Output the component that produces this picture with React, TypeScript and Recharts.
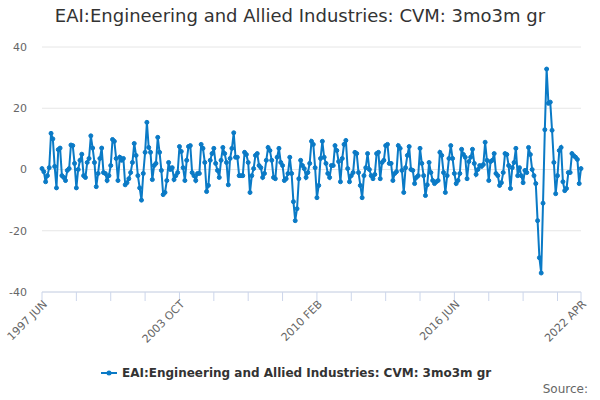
import React from 'react';
import { LineChart, Line, XAxis, YAxis, CartesianGrid } from 'recharts';

// EAI 3mo3m growth, monthly from 1997 JUN
const growth1997 = [
  0.3, -0.7, -4, -2, 0.6, 11.8, 10, 1, -6, 6.5, 7, -2, -2.6, -3.6, -0.3, 0.3, 8, 7.8, 2, -6, 0, 3, 5,
  -2, -2.6, 2.3, 3.6, 11, 7, 2.3, -5.6, -1.3, 3.6, 7, -1, -1.3, -3.6, -2, 1.3, 9.8, 9.2, 3.6, -3.6, 4, 3, 3.6, -5, -4.3, -3, -1, 2.3, 8.5,
  4.6, -2, -6, -10, -1.3, 5.6, 15.4, 7.2, 5.6, -3.3, 1.3, 2, 10.5, 5.6, -0.3, -8.2, -7.5, -3.6, 2.3, 0, 0.6, -3.3, -2, -1,
];
const growth2003 = [
  7.5, 5.9, 0.6, -3.6,
  3, 7.5, 7.8, -1, -2, -3.6, -1.3, -1.3, 8.2, 6.9, 2.3, -7.2, -5.2, 3, 5.2, 6.9, 2, -0.3, -2.6, 3, 7.2, 5.2, 2.3, -5, 3.6, 6.9, 12,
  4, 4, -2, -2, -2, 5.6, 4.9, 2.3, -7.5, -2, 0.3, 4.6, 5.2, 1.3, 0.6, -2.6, -1.3, 3, 7.2, 6.2, 3, -2.6, -3, 4, 6.9, 2.3, 1.3, -3.6, -3,
  -1.3, 4, -1.3, -10.5, -16.7, -12.8, -3, 3, 1.3, 0.3, -2.6, -1, 2, 9.2, 8.2, 0.6,
];
const growth2010 = [
  -9.2, -5.2, 3.6, 9.2, 4, 2, -1.3, -2.6, 1.3, 1.3, 7.8, 6.2,
  2.6, -4, 3.6, 8.2, 9.5, 0.3, -4, -2, -1, 5.6, 5.2, -1, -5.2, -9.2, -2, 0.6, 5.2, 0, -2, -3, -1.6, 5.2, 5.6, -3, 2.3, 3, 7.8,
  8.2, 2, 2, -3.6, -1.3, -0.7, 7.8, 6.9, -0.3, -7.5, 0.6, 4.6, 7.5, 0, -0.3, -4.6, -2.6, -2, 6.9, 2, -2, -8.5, -5, 2.3, -1, -3.6, -4.6,
];
const growth2016 = [
  -4, -3.6, 5.6, 4.6, -1, -7.5, -2, 3.6, 7.8, 3.6, -1.3, -4.6, -3.6, -1.3, 6.6, 4.9, 4, -3, 2.6, 4, 6.6, 2, -1.6, 0, 1.3, 1, 1.6, 8.9,
  3, -3.6, 2.6, 3, 5.2, -1.3, -2, -5.2, -4.3, -1, 5.2, 4.9, 1.3, -6.2, 0.6, 2.3, 6.9, -2, 0.6, -2, -4.3, -0.3, -1, 7.2, 4.9, 0, -2, -4.6,
  -16.7, -28.8, -33.8, -11, 13, 32.8, 21.6, 22, 12.8, 2.3, -7.9, -2, 6.2, 7.2, -4, -6.9, -6.2, -1, -1, 5.2, 4.5, 4, 3.3, -4.6, 0.3,
];

const values = [...growth1997, ...growth2003, ...growth2010, ...growth2016];

const monthNames = ['JAN', 'FEB', 'MAR', 'APR', 'MAY', 'JUN', 'JUL', 'AUG', 'SEP', 'OCT', 'NOV', 'DEC'];
const startYear = 1997;
const startMonth = 5;

const categories = values.map((_, i) => {
  const m = startMonth + i;
  return `${startYear + Math.floor(m / 12)} ${monthNames[m % 12]}`;
});

const labelledTicks = [0, 76, 152, 228, 298];
const tickStep = 19;
const xTicks = [...Array.from({ length: 16 }, (_, k) => k * tickStep), 298];
const yTicks = [-40, -20, 0, 20, 40];

const data = values.map((v, i) => ({ i, label: categories[i], v }));

const seriesName = 'EAI:Engineering and Allied Industries: CVM: 3mo3m gr';
const lineColor = '#0a7ac6';
const font = '"DejaVu Sans", sans-serif';

const XTick = (props: any) => {
  const { x, y, payload } = props;
  if (!labelledTicks.includes(payload.value)) return null;
  return (
    <g transform={`translate(${x + 3},${y - 1})`}>
      <text
        textAnchor="end"
        transform="rotate(-45)"
        fontSize={11}
        fill="#666666"
        fontFamily={font}
        dy={4}
      >
        {categories[payload.value]}
      </text>
    </g>
  );
};

export default function App() {
  return (
    <div style={{ position: 'absolute', left: 0, top: 0, width: 600, height: 400, fontFamily: font, background: '#fff' }}>
      <div
        style={{
          position: 'absolute',
          top: 5,
          left: 0,
          width: 600,
          textAlign: 'center',
          fontSize: 18,
          color: '#333333',
        }}
      >
        {seriesName}
      </div>
      <LineChart width={600} height={400} data={data} margin={{ top: 47, right: 19, left: 0, bottom: 0 }}>
        <CartesianGrid vertical={false} stroke="#e6e6e6" />
        <XAxis
          type="number"
          dataKey="i"
          domain={[0, 298]}
          ticks={xTicks}
          interval={0}
          height={108}
          tickSize={9}
          tickLine={{ stroke: '#ccd6eb' }}
          axisLine={{ stroke: '#ccd6eb' }}
          tick={<XTick />}
        />
        <YAxis
          domain={[-40, 40]}
          ticks={yTicks}
          width={42}
          axisLine={false}
          tickLine={false}
          tickSize={0}
          tickMargin={15}
          tick={{ fontSize: 11, fill: '#666666', fontFamily: font }}
        />
        <Line
          type="linear"
          dataKey="v"
          stroke={lineColor}
          strokeWidth={2}
          dot={{ r: 2, fill: lineColor, stroke: lineColor, strokeWidth: 1 }}
          isAnimationActive={false}
        />
      </LineChart>
      <svg style={{ position: 'absolute', left: 0, top: 360 }} width={600} height={40}>
        <line x1={101} x2={117} y1={13} y2={13} stroke={lineColor} strokeWidth={2} />
        <circle cx={109} cy={13} r={2.5} fill={lineColor} />
        <text x={122} y={17} fontSize={12} fontWeight="bold" fill="#333333" fontFamily={font}>
          {seriesName}
        </text>
        <text x={588} y={33} fontSize={12} fill="#666666" fontFamily={font} textAnchor="end">
          Source:
        </text>
      </svg>
    </div>
  );
}
